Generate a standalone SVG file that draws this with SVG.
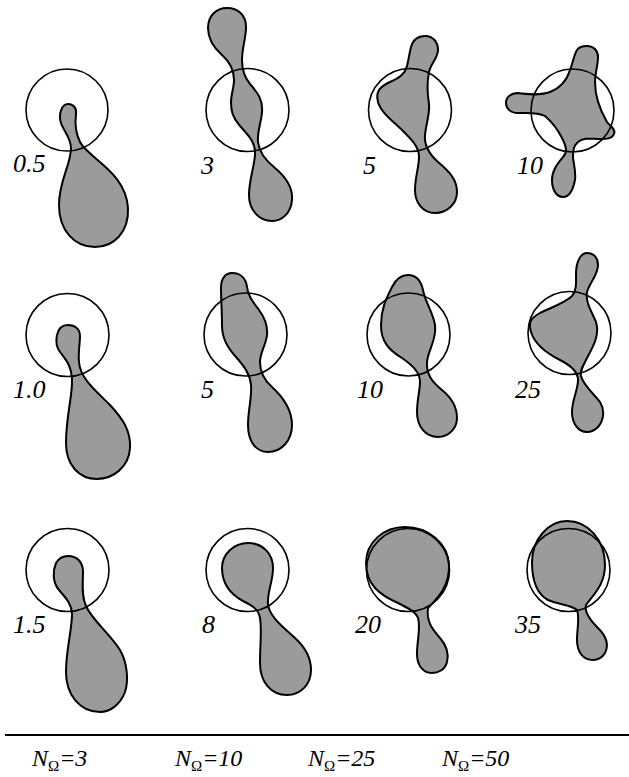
<svg xmlns="http://www.w3.org/2000/svg" width="629" height="777" viewBox="0 0 629 777">
<style>
.c{fill:none;stroke:#000;stroke-width:1.6}
.b{fill:#9b9b9b;stroke:#000;stroke-width:2;stroke-linejoin:round}
text{font-family:'Liberation Serif','Times New Roman',Times,serif;font-style:italic;fill:#000}
.l{font-size:26px}
.n{font-size:24px}
.s{font-style:normal;font-size:15px}
</style>
<rect width="629" height="777" fill="#fff"/>
<g id="r1c1">
<path class="b" d="M68,104 C73,104 77,108 76,114 C75,122 75,132 80,142 C88,158 126,172 128,208 C129,232 114,247 95,247 C74,247 59,230 59,205 C59,180 71,165 71,148 C71,138 63,130 61,123 C58,114 62,104 68,104 Z"/>
<circle class="c" cx="67" cy="110" r="41"/>
<text class="l" x="13" y="172">0.5</text>
</g>
<g id="r1c2">
<path class="b" d="M227,8 C238,8 246,15 246,27 C246,38 242,48 242,60 C242,70 245,78 250,84 C258,93 263,100 262,112 C261,124 257,132 258,142 C259,152 265,160 275,168 C287,178 293,188 292,200 C291,213 282,221 272,221 C259,221 249,210 249,195 C249,180 254,168 255,155 C256,142 248,135 240,126 C232,117 231,110 231,102 C231,94 234,88 234,80 C234,70 230,62 222,55 C214,48 208,40 208,28 C208,16 216,8 227,8 Z"/>
<circle class="c" cx="247.5" cy="110" r="41.5"/>
<text class="l" x="201" y="174">3</text>
</g>
<g id="r1c3">
<path class="b" d="M425,36 C433,36 438,42 438,50 C438,58 431,63 429,72 C427,82 427,92 429,104 C430,114 426,124 425,135 C424,145 428,153 438,162 C450,172 457,180 457,192 C457,204 447,213 435,213 C423,213 415,203 415,190 C415,177 419,167 419,157 C419,147 412,140 404,132 C394,122 381,113 378,102 C375,91 381,86 390,82 C399,78 405,74 407,66 C409,58 409,55 411,47 C413,40 417,36 425,36 Z"/>
<circle class="c" cx="410" cy="110" r="41.5"/>
<text class="l" x="363" y="174">5</text>
</g>
<g id="r1c4">
<path class="b" d="M587,46 C594,46 598,51 598,57 C598,66 595,72 595,82 C595,96 600,110 607,122 C610,126 616,129 614,134 C612,139 606,139 600,139 C592,139 584,137 578,142 C573,146 573,152 573,158 C574,165 576,172 575,180 C573,190 569,197 563,197 C556,197 552,189 552,180 C552,170 558,163 563,157 C568,152 566,146 562,138 C558,130 552,122 545,116 C538,112 528,113 518,113 C510,113 506,108 506,103 C506,97 511,93 518,93 C528,94 540,96 550,92 C560,88 567,80 570,70 C573,62 574,55 577,50 C579,47 583,46 587,46 Z"/>
<circle class="c" cx="572.5" cy="110.5" r="41.5"/>
<text class="l" x="517" y="174">10</text>
</g>
<g id="r2c1">
<path class="b" d="M68,325 C75,325 80,329 80,336 C80,344 78,352 79,362 C80,378 95,390 110,405 C122,418 131,430 130,448 C129,467 113,479 97,479 C79,479 66,465 66,443 C66,415 73,395 72,378 C71,365 66,360 60,352 C54,344 55,325 68,325 Z"/>
<circle class="c" cx="67.5" cy="335" r="41.5"/>
<text class="l" x="13" y="398">1.0</text>
</g>
<g id="r2c2">
<path class="b" d="M232,273 C241,273 246,279 247,287 C248,296 253,302 259,310 C265,318 268,325 267,335 C266,345 260,352 260,362 C260,372 264,380 272,387 C284,398 292,410 292,425 C292,441 281,452 268,452 C255,452 248,440 248,425 C248,410 252,398 251,385 C250,374 244,366 236,357 C227,347 222,338 222,325 C222,312 221,300 221,288 C221,279 225,273 232,273 Z"/>
<circle class="c" cx="245.5" cy="334.5" r="41.5"/>
<text class="l" x="201" y="398">5</text>
</g>
<g id="r2c3">
<path class="b" d="M408,275 C416,275 421,281 423,290 C425,302 433,312 435,325 C437,340 428,350 427,362 C426,374 432,382 442,390 C453,399 457,408 457,418 C457,429 448,437 438,437 C426,437 417,427 417,412 C417,400 420,390 420,382 C420,372 412,365 402,358 C389,350 381,342 381,325 C381,308 387,297 392,287 C396,279 401,275 408,275 Z"/>
<circle class="c" cx="408.5" cy="334.5" r="41.5"/>
<text class="l" x="357" y="398">10</text>
</g>
<g id="r2c4">
<path class="b" d="M587,253 C594,253 598,258 598,265 C598,275 590,282 587,292 C585,302 592,312 596,322 C600,335 593,347 587,358 C583,366 580,370 581,376 C583,385 594,394 600,402 C605,410 604,420 598,427 C594,431 590,432 587,432 C578,432 572,423 572,412 C572,400 578,390 578,380 C578,372 570,365 560,360 C548,354 535,345 531,332 C528,322 531,318 540,313 C552,307 565,303 572,296 C577,290 576,282 576,274 C576,263 580,253 587,253 Z"/>
<circle class="c" cx="569.5" cy="333" r="41.5"/>
<text class="l" x="515" y="398">25</text>
</g>
<g id="r3c1">
<path class="b" d="M68,556 C77,556 83,562 83,572 C83,583 81,595 86,606 C92,620 110,634 120,650 C127,662 129,680 125,692 C120,705 110,712 100,712 C80,712 66,695 66,672 C66,650 72,630 72,614 C72,604 65,597 59,590 C52,582 53,570 56,563 C59,558 63,556 68,556 Z"/>
<circle class="c" cx="67.5" cy="570" r="41.5"/>
<text class="l" x="13" y="633">1.5</text>
</g>
<g id="r3c2">
<path class="b" d="M248,543 C262,543 273,553 273,568 C273,582 267,592 268,604 C269,616 282,626 295,638 C306,648 311,658 311,670 C311,685 300,695 287,695 C271,695 260,682 260,663 C260,645 262,630 260,618 C259,610 253,606 243,601 C230,594 222,583 222,568 C222,554 234,543 248,543 Z"/>
<circle class="c" cx="247.5" cy="570" r="41.5"/>
<text class="l" x="202" y="633">8</text>
</g>
<g id="r3c3">
<path class="b" d="M405,527 C428,527 448,543 449,565 C450,585 438,598 428,608 C426,622 433,630 440,638 C447,646 449,654 447,662 C445,670 438,673 432,673 C422,673 417,664 417,654 C417,640 421,628 418,618 C416,612 408,608 398,603 C380,595 366,585 366,563 C366,542 384,527 405,527 Z"/>
<circle class="c" cx="408" cy="570" r="41.5"/>
<text class="l" x="355" y="633">20</text>
</g>
<g id="r3c4">
<path class="b" d="M567,521 C588,521 605,540 605,565 C605,585 593,595 586,605 C584,612 590,620 598,628 C606,636 609,645 605,653 C602,658 597,660 593,660 C583,660 577,652 577,640 C577,628 580,618 577,610 C572,605 560,605 548,600 C537,594 532,582 532,562 C532,540 548,521 567,521 Z"/>
<circle class="c" cx="568.5" cy="570" r="41.5"/>
<text class="l" x="515" y="633">35</text>
</g>
<g id="axis">
<line x1="5" y1="735" x2="629" y2="735" stroke="#000" stroke-width="2.2"/>
<text class="n" x="32" y="766">N<tspan class="s" dy="5">Ω</tspan><tspan dy="-5">=3</tspan></text>
<text class="n" x="175" y="766">N<tspan class="s" dy="5">Ω</tspan><tspan dy="-5">=10</tspan></text>
<text class="n" x="308" y="766">N<tspan class="s" dy="5">Ω</tspan><tspan dy="-5">=25</tspan></text>
<text class="n" x="442" y="766">N<tspan class="s" dy="5">Ω</tspan><tspan dy="-5">=50</tspan></text>
</g>
</svg>
